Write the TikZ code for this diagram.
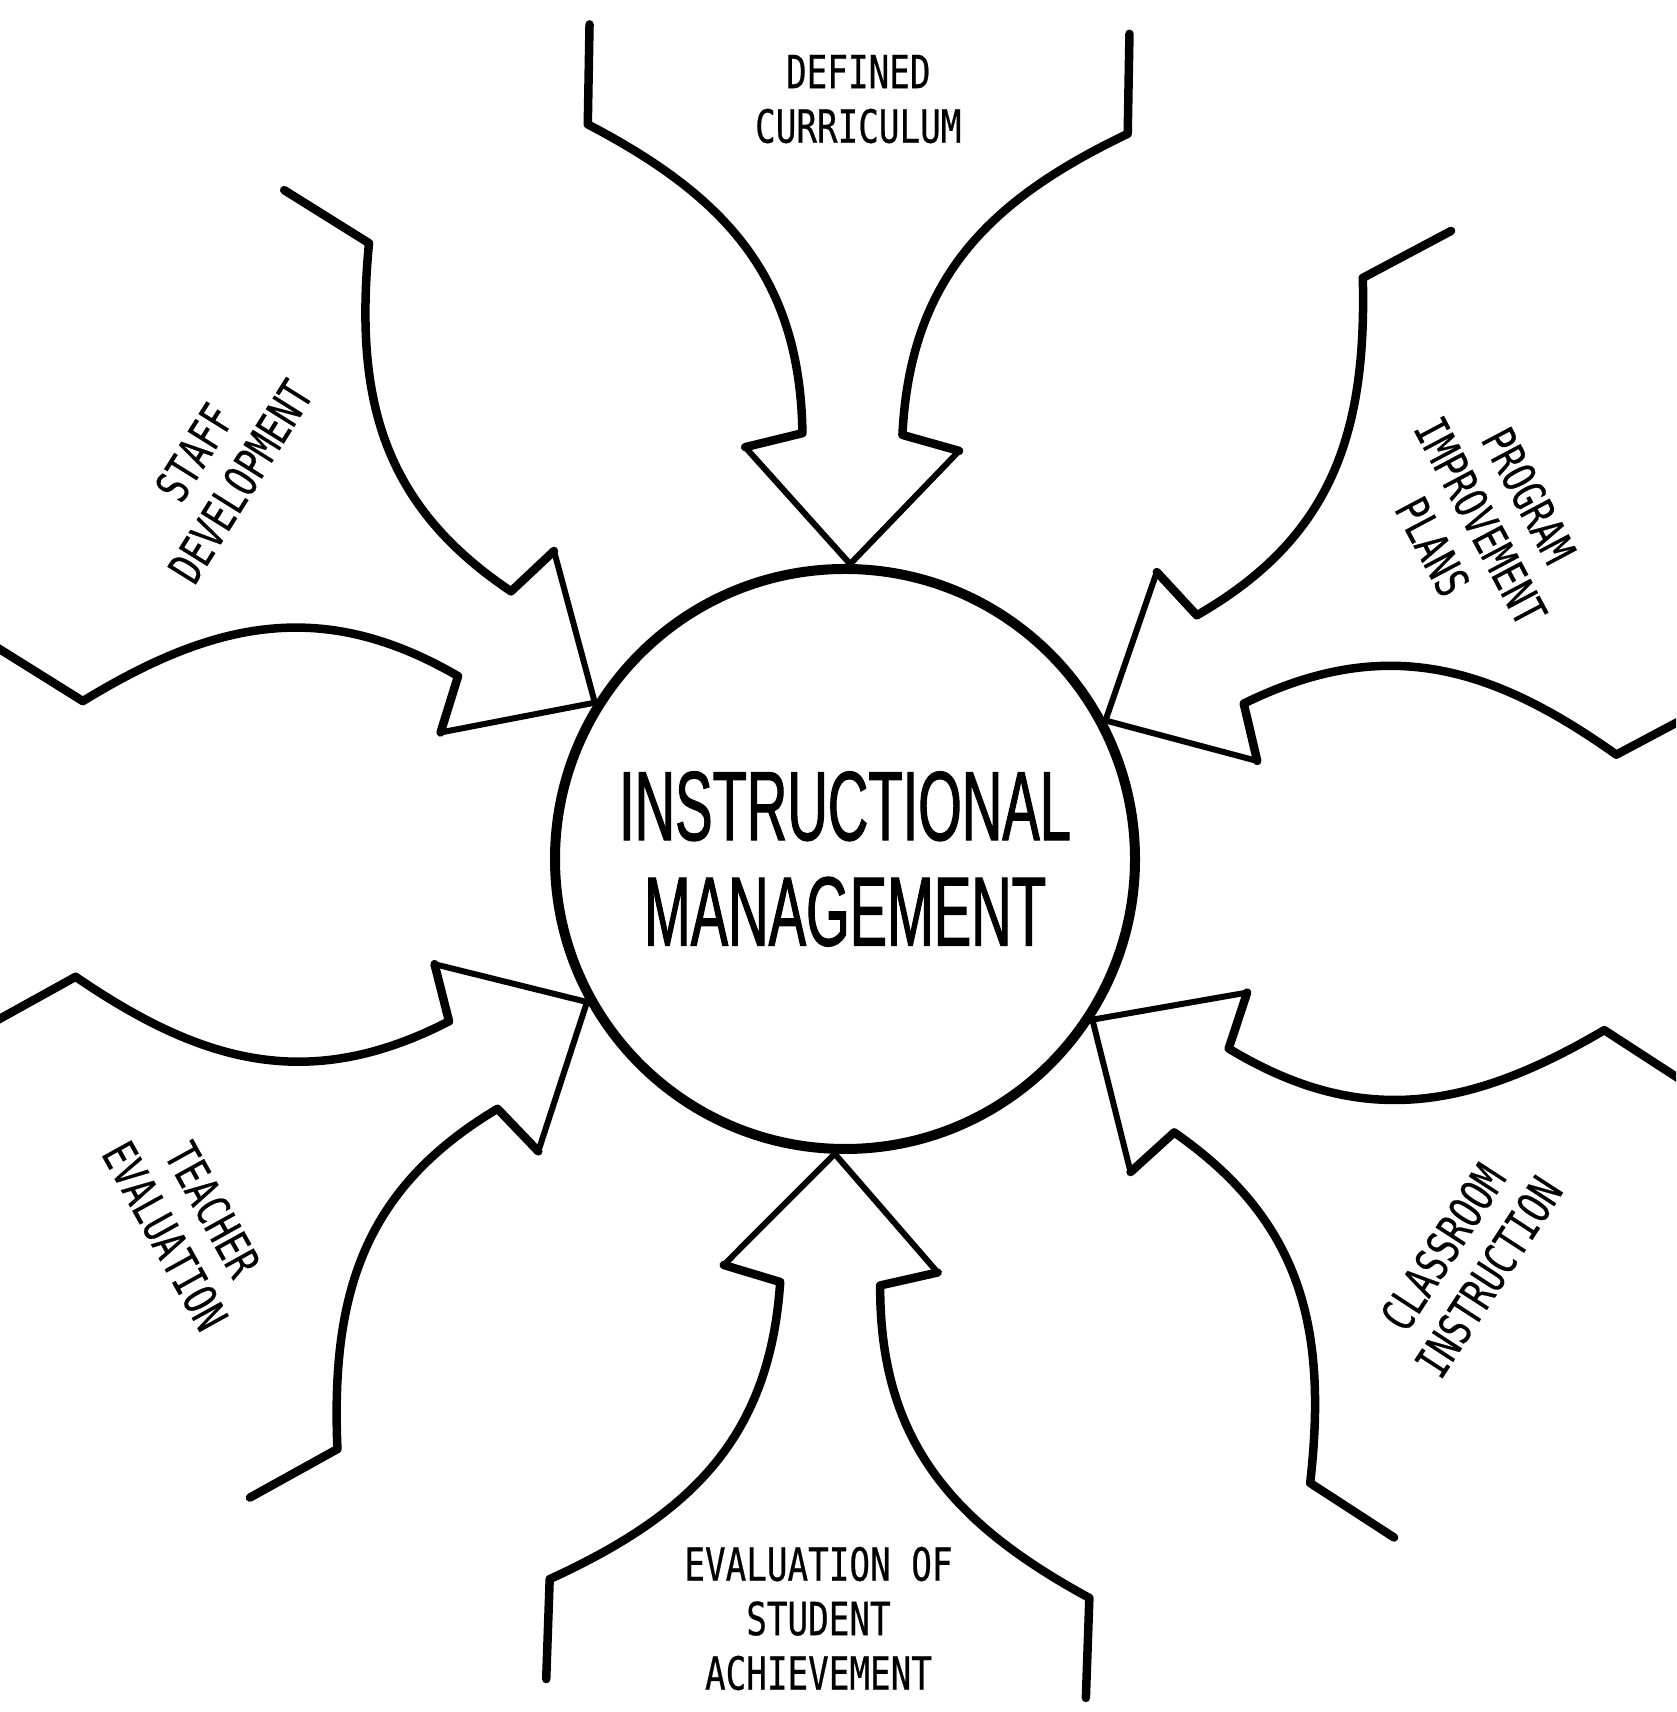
\documentclass[tikz,border=0pt]{standalone}
\usepackage{fontspec}
\newfontfamily\hubfont[FakeStretch=0.57,FakeBold=1.1]{Liberation Sans}
\newfontfamily\tagfont[FakeStretch=0.75,FakeBold=0.5]{DejaVu Sans Mono}
\tikzset{
        rim/.style={line width=0.85mm, line cap=round, line join=round},
        head/.style={line width=0.6mm, line join=miter},
        hub/.style={circle, draw=black, line width=1mm, minimum size=5.8cm, inner sep=0pt,
          align=center, font=\hubfont\fontsize{28}{30}\selectfont},
        tag/.style={align=center, font=\tagfont\fontsize{13}{15.5}\selectfont}
          }
% one arrow feeding the hub: axis angle, text angle, text distance, name, text
\newcommand{\feed}[5]{
  \begin{scope}[shift={(im.center)}, rotate=#1-90]
    \draw[rim] (-2.7,8.3) -- (-2.7,7.3) .. controls (-1.3,6.6) and (-0.55,5.8) .. (-0.5,4.25) -- (-1.07,4.1);
    \draw[rim] (2.7,8.3) -- (2.7,7.3) .. controls (1.3,6.6) and (0.55,5.8) .. (0.5,4.25) -- (1.07,4.1);
    \draw[head] (-1.07,4.1) -- (im.#1) -- (1.07,4.1);
    \node[tag, rotate=#2] (#4) at (0,#3) {#5};
  \end{scope}}

\begin{document}
\begin{tikzpicture}
        \useasboundingbox (0,0) rectangle (16.76,17.12);
        \clip (0,0) rectangle (16.76,17.12);
        \node[hub] (im) at (8.45,8.53) {INSTRUCTIONAL\\MANAGEMENT};
        \feed{89}{0}{7.6}{curric}{DEFINED\\CURRICULUM}
        \feed{28}{-62}{7.2}{plans}{PROGRAM\\IMPROVEMENT\\PLANS}
        \feed{327}{57}{7.4}{classroom}{CLASSROOM\\INSTRUCTION}
        \feed{268}{0}{7.6}{achieve}{EVALUATION OF\\STUDENT\\ACHIEVEMENT}
        \feed{209}{-61}{7.5}{teacher}{TEACHER\\EVALUATION}
        \feed{148}{58}{7.4}{staff}{STAFF\\DEVELOPMENT}
      \end{tikzpicture}
\end{document}
